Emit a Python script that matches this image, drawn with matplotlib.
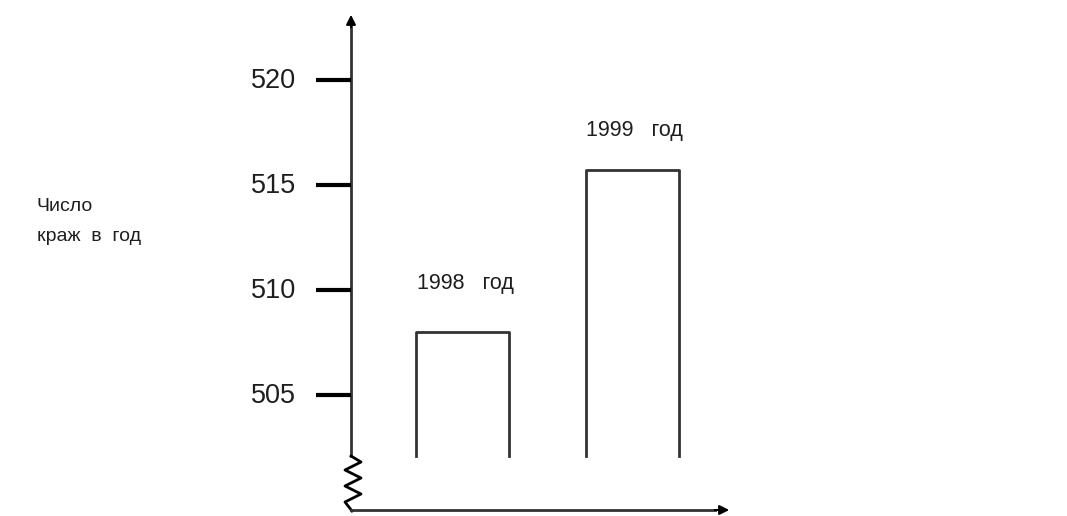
import matplotlib
matplotlib.use("Agg")
import matplotlib.pyplot as plt

# data
years = ["1998", "1999"]
thefts = [508.0, 515.7]
bar_base = 502.1
tick_values = [505, 510, 515, 520]

plt.rcParams['font.family'] = ['Liberation Sans', 'DejaVu Sans']

W, H = 1067, 516
fig = plt.figure(figsize=(W / 100, H / 100), dpi=100)
ax = fig.add_axes([0, 0, 1, 1])
ax.set_axis_off()

# pixel scale: 5 units = 105 px, 510 sits at pixel row 290
def py(p):
    return 510 - (p - 290) / 21.0

ax.set_xlim(0, W)
ax.set_ylim(py(H), py(0))

axis_x = 351
line_col = '#333333'
text_col = '#1e1e1e'

# y axis with arrow
ax.plot([axis_x, axis_x], [py(456), py(22)], color=line_col, lw=2)
ax.annotate('', xy=(axis_x, py(12)), xytext=(axis_x, py(30)),
            arrowprops=dict(arrowstyle='-|>', color='black', lw=1.5, mutation_scale=14))

# break zigzag
zx = [351, 361, 345, 361, 345, 361, 345, 352]
zy = [456, 462, 470, 478, 486, 494, 502, 511]
ax.plot(zx, [py(v) for v in zy], color='black', lw=2)

# x axis with arrow
ax.plot([axis_x, 715], [py(510), py(510)], color=line_col, lw=2)
ax.annotate('', xy=(732, py(510)), xytext=(712, py(510)),
            arrowprops=dict(arrowstyle='-|>', color='black', lw=1.5, mutation_scale=14))

# ticks and labels
for v in tick_values:
    ax.plot([316, axis_x], [v, v], color='black', lw=3, solid_capstyle='butt')
    ax.text(296, v - 0.03, str(v), ha='right', va='center', fontsize=19.5, color=text_col)

# bars, open at the bottom
centers = [462.5, 632]
width = 93
label_gap = [49, 40]  # px above bar top
for c, val, yr, gap in zip(centers, thefts, years, label_gap):
    left, right = c - width / 2, c + width / 2
    ax.bar(c, val - bar_base, width=width, bottom=bar_base, color='white', edgecolor='none')
    ax.plot([left, left, right, right], [bar_base, val, val, bar_base], color=line_col, lw=2)
    ax.text(left + 1, val + gap / 21.0, yr + '   год', ha='left', va='center',
            fontsize=15.5, color=text_col)

ax.text(37, py(206), 'Число', ha='left', va='center', fontsize=14, color=text_col)
ax.text(37, py(236), 'краж  в  год', ha='left', va='center', fontsize=14, color=text_col)

fig.savefig('out.png', dpi=100)
